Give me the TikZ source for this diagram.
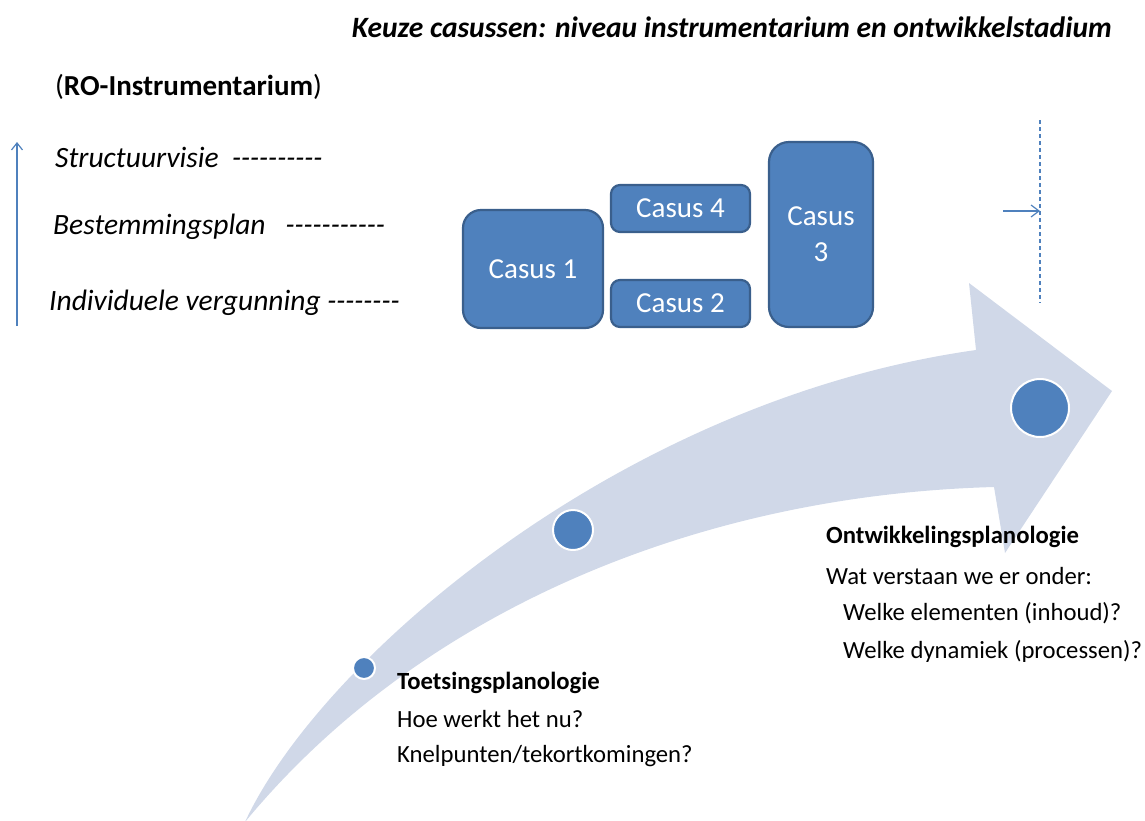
\documentclass[tikz,border=0pt]{standalone}
\usepackage{fontspec}
\setmainfont{Carlito}
\usetikzlibrary{arrows.meta}
\definecolor{casusblauw}{HTML}{4F81BD}
\definecolor{casusrand}{HTML}{3A5F8C}
\definecolor{pijlgrijs}{HTML}{D0D8E8}
\newcommand\streepjes[1]{\foreach\k in {1,...,#1}{\mbox{-}}}
\newcommand\fs[1]{\fontsize{#1}{#1}\selectfont}

\begin{document}
\begin{tikzpicture}[x=1pt,y=-1pt,
    casus/.style={draw=casusrand,line width=2.2pt,fill=casusblauw,text=white,
        font=\fs{29},align=center,inner sep=0pt},
    niveau/.style={anchor=west,inner sep=0pt,font=\fs{29.5}\itshape},
    tekst/.style={anchor=west,inner sep=0pt,font=\fs{24.7}},
    stap/.style={circle,fill=casusblauw,draw=white,line width=2pt,inner sep=0pt},
    lijn/.style={casusblauw,line width=1.2pt}]
\useasboundingbox (0,0) rectangle (1145,820);

% gebogen pijl
\fill[pijlgrijs] (976,350) -- (969,283) -- (1112,391) -- (1005,553) -- (994,487)
    .. controls (700,495) and (420,610) .. (245,822)
    .. controls (320,660) and (620,400) .. (976,350) -- cycle;

\node[anchor=east,inner sep=0pt,font=\fs{29.5}\bfseries\itshape] (titel) at (1112,27)
    {Keuze casussen: niveau instrumentarium en ontwikkelstadium};
\node[anchor=west,inner sep=0pt,font=\fs{29}] (ro) at (55,87) {(\textbf{RO-Instrumentarium})};

\node[niveau] (sv) at (55,157) {Structuurvisie\ \ \streepjes{10}};
\node[niveau] (bp) at (53,227) {Bestemmingsplan\ \ \ \streepjes{11}};
\node[niveau] (iv) at (49,303) {Individuele vergunning \streepjes{8}};
\coordinate (onder) at (17,326);
\coordinate (boven) at (17,142);
\draw[lijn,-{Straight Barb[length=7pt,width=11pt]}] (onder) -- (boven);

\node[casus,minimum width=140pt,minimum height=118pt,rounded corners=18pt] (c1) at (533,269) {Casus 1};
\node[casus,minimum width=139pt,minimum height=47pt,rounded corners=9pt] (c4) at (680.5,208.5) {Casus 4};
\node[casus,minimum width=139pt,minimum height=47pt,rounded corners=9pt] (c2) at (680.5,303.5) {Casus 2};
\node[casus,minimum width=104pt,minimum height=185pt,rounded corners=20pt] (c3) at (821,234.5) {Casus\\[7pt]3};

\coordinate (stipboven) at (1040,120);
\coordinate (stiponder) at (1040,303);
\coordinate (pijlstart) at (1003,211);
\coordinate (pijleind) at (1040,211);
\draw[lijn,dash pattern=on 4pt off 3pt] (stipboven) -- (stiponder);
\draw[lijn,-{Straight Barb[length=8pt,width=12pt]}] (pijlstart) -- (pijleind);

\node[stap,minimum size=22pt] (s1) at (364,668) {};
\node[stap,minimum size=40pt] (s2) at (573,530) {};
\node[stap,minimum size=58pt] (s3) at (1040,408) {};

\node[tekst,font=\fs{24.7}\bfseries] (toets) at (397,683) {Toetsingsplanologie};
\node[tekst] (t1) at (397,719) {Hoe werkt het nu?};
\node[tekst] (t2) at (397,756) {Knelpunten/tekortkomingen?};

\node[tekst,font=\fs{24.7}\bfseries] (ontw) at (826,537) {Ontwikkelingsplanologie};
\node[tekst] (o1) at (826,576) {Wat verstaan we er onder:};
\node[tekst] (o2) at (843,613) {Welke elementen (inhoud)?};
\node[tekst] (o3) at (843,651) {Welke dynamiek (processen)?};
\end{tikzpicture}
\end{document}
